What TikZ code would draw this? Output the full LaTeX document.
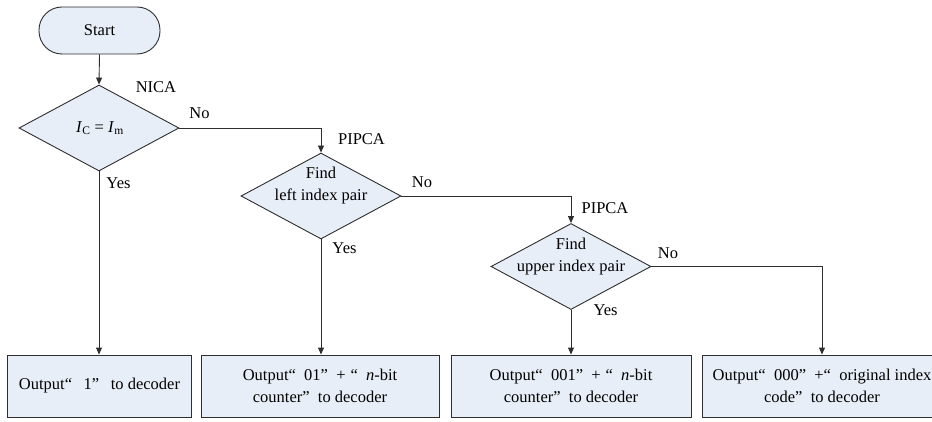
\documentclass[tikz,border=0pt]{standalone}
\usepackage{fontspec}
\setmainfont{Liberation Serif}
\usetikzlibrary{shapes.geometric,arrows.meta}
\definecolor{fillc}{HTML}{E8EEF7}
\definecolor{linec}{HTML}{2E2E2E}
\begin{document}
\begin{tikzpicture}[x=1pt,y=-1pt,
  every node/.style={font=\fontsize{16.5}{22}\selectfont, text=black},
  box/.style={draw=linec, fill=fillc, line width=0.9pt, minimum height=62, inner sep=0, align=center},
  dec/.style={draw=linec, fill=fillc, line width=0.9pt, diamond, minimum width=160, minimum height=86, inner sep=0},
  term/.style={draw=linec, fill=fillc, line width=0.9pt, rounded corners=23, minimum width=121, minimum height=47, inner sep=0},
  conn/.style={draw=linec, line width=0.9pt, -{Triangle[length=7,width=6]}},
  lab/.style={inner sep=0}]
\clip (0,0) rectangle (932,422);
% nodes
\node[term] (start) at (99.5,30.5) {Start};
\node[dec] (d1) at (99,128) {};
\node[lab] (d1t) at (100,128) {\textit{I}\textsubscript{C} = \textit{I}\textsubscript{m}};
\node[dec] (d2) at (321,196) {};
\node[lab, align=center] (d2t) at ([yshift=10]d2.center) {Find\\left index pair};
\node[dec] (d3) at (571,266.5) {};
\node[lab, align=center] (d3t) at ([yshift=10]d3.center) {Find\\upper index pair};
\node[box, minimum width=184] (b1) at (99.5,386) {Output“\hspace{0.7em}1”\hspace{0.7em}to decoder};
\node[box, minimum width=238] (b2) at (320,386) {Output“\hspace{0.5em}01”\hspace{0.5em}+\hspace{0.3em}“\hspace{0.5em}\textit{n}-bit\\counter”\hspace{0.5em}to decoder};
\node[box, minimum width=240] (b3) at (571,386) {Output“\hspace{0.5em}001”\hspace{0.5em}+\hspace{0.3em}“\hspace{0.5em}\textit{n}-bit\\counter”\hspace{0.5em}to decoder};
\node[box, minimum width=240] (b4) at (822,386) {Output“\hspace{0.5em}000”\hspace{0.5em}+“\hspace{0.5em}original index\\code”\hspace{0.5em}to decoder};
% labels
\node[lab] (nica) at (156,87) {NICA};
\node[lab] (no1) at (199.5,113) {No};
\node[lab] (yes1) at (118.5,183) {Yes};
\node[lab] (pipca1) at (361.5,139) {PIPCA};
\node[lab] (no2) at (422,182) {No};
\node[lab] (yes2) at (344.5,248) {Yes};
\node[lab] (pipca2) at (605,208) {PIPCA};
\node[lab] (no3) at (668,253) {No};
\node[lab] (yes3) at (605.5,310) {Yes};
% connectors
\draw[conn] (start.south) -- (d1.north);
\draw[conn] (d1.east) -| (d2.north);
\draw[conn] (d1.south) -- (b1.north -| d1.south);
\draw[conn] (d2.east) -| (d3.north);
\draw[conn] (d2.south) -- (b2.north -| d2.south);
\draw[conn] (d3.south) -- (b3.north);
\draw[conn] (d3.east) -| (b4.north);
\end{tikzpicture}
\end{document}
